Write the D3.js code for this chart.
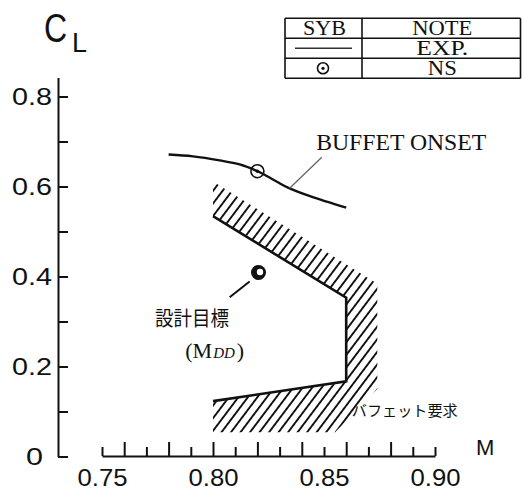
<!DOCTYPE html>
<html>
<head>
<meta charset="utf-8">
<script src="https://cdn.jsdelivr.net/npm/d3@7"></script>
<style>
  body { margin: 0; background: #fff; }
  svg { display: block; }
  .axis path, .axis line { stroke: #111; stroke-width: 2; }
  .num { font-family: "Liberation Sans", Arial, sans-serif; fill: #111; }
  .serif { font-family: "Liberation Serif", "DejaVu Serif", serif; fill: #111; }
  .jp { font-family: "Noto Sans CJK JP", sans-serif; fill: #111; }
</style>
</head>
<body>
<script>
// buffet onset curve (Mach, CL)
var onsetM  = [0.780, 0.791, 0.803, 0.812, 0.820, 0.824, 0.829, 0.834, 0.844, 0.860];
var onsetCL = [0.671, 0.667, 0.658, 0.649, 0.634, 0.624, 0.610, 0.597, 0.578, 0.553];
// NS point on onset curve
var nsPoint = [0.820, 0.634];
// design target (M_DD)
var targetPoint = [0.8205, 0.409];
// buffet requirement boundary (inner line) and outer edge of hatching
var reqInnerM  = [0.800, 0.860, 0.860, 0.800];
var reqInnerCL = [0.534, 0.353, 0.167, 0.123];
var reqOuterM  = [0.800, 0.874, 0.874, 0.855, 0.800];
var reqOuterCL = [0.611, 0.384, 0.150, 0.054, 0.054];
// ticks
var xTicks = [0.75,0.76,0.77,0.78,0.79,0.80,0.81,0.82,0.83,0.84,0.85,0.86,0.87,0.88,0.89,0.90];
var xTickLabels = {"0.75":"0.75", "0.8":"0.80", "0.85":"0.85", "0.9":"0.90"};
var yTicks = [0,0.1,0.2,0.3,0.4,0.5,0.6,0.7,0.8];
var yTickLabels = {"0":"0", "0.2":"0.2", "0.4":"0.4", "0.6":"0.6", "0.8":"0.8"};
// legend table
var legendRows = [["SYB","NOTE"],["line","EXP."],["circle","NS"]];

var W = 522, H = 494;
var svg = d3.select("body").append("svg").attr("width", W).attr("height", H);

// スケール
var x = d3.scaleLinear().domain([0.75, 0.90]).range([102, 435]);
var y = d3.scaleLinear().domain([0, 0.842]).range([456.5, 77.6]);

// ハッチング
var defs = svg.append("defs");
defs.append("pattern")
    .attr("id", "hatch")
    .attr("patternUnits", "userSpaceOnUse")
    .attr("width", 7.6).attr("height", 7.6)
    .attr("patternTransform", "rotate(37)")
  .append("line")
    .attr("x1", 3.8).attr("y1", 0).attr("x2", 3.8).attr("y2", 7.6)
    .attr("stroke", "#111").attr("stroke-width", 1.9);

// Y軸
var yAxis = d3.axisLeft(y)
    .tickValues(yTicks)
    .tickSizeInner(-10).tickSizeOuter(0).tickPadding(6)
    .tickFormat(function(d){ return yTickLabels[String(+d.toFixed(2))] || ""; });
var gy = svg.append("g").attr("class", "axis").attr("transform", "translate(58,0)").call(yAxis);
gy.selectAll("text").attr("class", "num").attr("font-size", 24)
    .attr("textLength", function(d){ var t = yTickLabels[String(+d.toFixed(2))]; return t ? (t.length > 1 ? 40 : 17) : null; })
    .attr("lengthAdjust", "spacingAndGlyphs")
    .attr("x", function(d){ return d === 0 ? -15 : -6; });

// X軸
var xAxis = d3.axisBottom(x)
    .tickValues(xTicks)
    .tickSizeInner(-14).tickSizeOuter(0).tickPadding(13)
    .tickFormat(function(d){ return xTickLabels[String(+d.toFixed(2))] || ""; });
var gx = svg.append("g").attr("class", "axis").attr("transform", "translate(0,456)").call(xAxis);
gx.selectAll(".tick line").attr("y2", function(d, i){
    var k = Math.round(d * 100);
    return (k % 2 === 0 && i > 0 && i < xTicks.length - 1) ? -14 : -9;
});
gx.selectAll("text").attr("class", "num").attr("font-size", 24)
    .attr("textLength", function(d){ return xTickLabels[String(+d.toFixed(2))] ? 50 : null; })
    .attr("lengthAdjust", "spacingAndGlyphs");

// 軸ラベル
svg.append("text").attr("class", "num").attr("font-size", 40)
    .attr("transform", "translate(44,42) scale(0.8,1)").text("C");
svg.append("text").attr("class", "num").attr("font-size", 27)
    .attr("x", 72).attr("y", 52).text("L");
svg.append("text").attr("class", "num").attr("font-size", 22)
    .attr("x", x(0.9185)).attr("y", y(0.003)).text("M");

// バフェット要求 (hatched band)
var bandPts = reqInnerM.map(function(m, i){ return [x(m), y(reqInnerCL[i])]; })
    .concat(reqOuterM.map(function(m, i){ return [x(m), y(reqOuterCL[i])]; }).reverse());
svg.append("path")
    .attr("d", "M" + bandPts.join("L") + "Z")
    .attr("fill", "url(#hatch)");
svg.append("path")
    .datum(reqInnerM.map(function(m, i){ return [m, reqInnerCL[i]]; }))
    .attr("d", d3.line().x(function(d){ return x(d[0]); }).y(function(d){ return y(d[1]); }))
    .attr("fill", "none").attr("stroke", "#111").attr("stroke-width", 2.6)
    .attr("stroke-linejoin", "miter");

// BUFFET ONSET curve
svg.append("path")
    .datum(onsetM.map(function(m, i){ return [m, onsetCL[i]]; }))
    .attr("d", d3.line().curve(d3.curveCatmullRom).x(function(d){ return x(d[0]); }).y(function(d){ return y(d[1]); }))
    .attr("fill", "none").attr("stroke", "#111").attr("stroke-width", 2.4);

// NS point
svg.append("circle").attr("cx", x(nsPoint[0])).attr("cy", y(nsPoint[1])).attr("r", 6.5)
    .attr("fill", "none").attr("stroke", "#111").attr("stroke-width", 1.6);
svg.append("circle").attr("cx", x(nsPoint[0])).attr("cy", y(nsPoint[1])).attr("r", 1.8).attr("fill", "#111");

// leader + label BUFFET ONSET
svg.append("line")
    .attr("x1", x(0.8345)).attr("y1", y(0.596))
    .attr("x2", x(0.8490)).attr("y2", y(0.665))
    .attr("stroke", "#666").attr("stroke-width", 1.3);
svg.append("text").attr("class", "serif").attr("font-size", 23)
    .attr("x", x(0.8465)).attr("y", y(0.681))
    .attr("textLength", 170).attr("lengthAdjust", "spacingAndGlyphs")
    .text("BUFFET ONSET");

// 設計目標
svg.append("line")
    .attr("x1", x(0.8165)).attr("y1", y(0.389))
    .attr("x2", x(0.8075)).attr("y2", y(0.354))
    .attr("stroke", "#111").attr("stroke-width", 2);
svg.append("circle").attr("cx", x(targetPoint[0])).attr("cy", y(targetPoint[1])).attr("r", 7.5).attr("fill", "#111");
svg.append("circle").attr("cx", x(targetPoint[0]) + 1.5).attr("cy", y(targetPoint[1]) - 0.5).attr("r", 3.2).attr("fill", "#fff");
svg.append("text").attr("class", "jp").attr("font-size", 20)
    .attr("x", x(0.7905)).attr("y", y(0.290)).attr("text-anchor", "middle")
    .attr("textLength", 74).attr("lengthAdjust", "spacingAndGlyphs")
    .text("設計目標");
var mdd = svg.append("text").attr("class", "serif").attr("font-size", 22)
    .attr("x", x(0.7875)).attr("y", y(0.218));
mdd.append("tspan").text("(M");
mdd.append("tspan").attr("font-size", 15).attr("font-style", "italic").attr("dx", 1).text("DD");
mdd.append("tspan").attr("dx", 2).text(")");

// バフェット要求 label
svg.append("text").attr("class", "jp").attr("font-size", 15)
    .attr("x", x(0.8625)).attr("y", y(0.090))
    .attr("textLength", 106).attr("lengthAdjust", "spacingAndGlyphs")
    .text("バフェット要求");

// 凡例テーブル
var tbl = svg.append("g").attr("class", "legend");
var tx0 = 285, tx1 = 362, tx2 = 520.5, rowY = [18.3, 38.3, 58.3, 78.3];
var noteWidth = {"NOTE": 60, "EXP.": 52, "NS": 29};
rowY.forEach(function(ry){
    tbl.append("line").attr("x1", tx0).attr("x2", tx2).attr("y1", ry).attr("y2", ry)
        .attr("stroke", "#111").attr("stroke-width", 1.6);
});
[tx0, tx1, tx2].forEach(function(cx){
    tbl.append("line").attr("x1", cx).attr("x2", cx).attr("y1", rowY[0]).attr("y2", rowY[3])
        .attr("stroke", "#111").attr("stroke-width", 1.6);
});
legendRows.forEach(function(r, i){
    var cy = (rowY[i] + rowY[i + 1]) / 2;
    if (r[0] === "line") {
        tbl.append("line").attr("x1", 295).attr("x2", 352).attr("y1", cy).attr("y2", cy)
            .attr("stroke", "#333").attr("stroke-width", 1.6);
    } else if (r[0] === "circle") {
        tbl.append("circle").attr("cx", 323).attr("cy", cy).attr("r", 5.5)
            .attr("fill", "none").attr("stroke", "#111").attr("stroke-width", 1.6);
        tbl.append("circle").attr("cx", 323).attr("cy", cy).attr("r", 1.6).attr("fill", "#111");
    } else {
        tbl.append("text").attr("class", "serif").attr("font-size", 20)
            .attr("x", (tx0 + tx1) / 2 + 1).attr("y", cy + 7).attr("text-anchor", "middle")
            .attr("textLength", 43).attr("lengthAdjust", "spacingAndGlyphs").text(r[0]);
    }
    tbl.append("text").attr("class", "serif").attr("font-size", 20)
        .attr("x", (tx1 + tx2) / 2 + 1).attr("y", cy + 7).attr("text-anchor", "middle")
        .attr("textLength", noteWidth[r[1]]).attr("lengthAdjust", "spacingAndGlyphs")
        .text(r[1]);
});
</script>
</body>
</html>
